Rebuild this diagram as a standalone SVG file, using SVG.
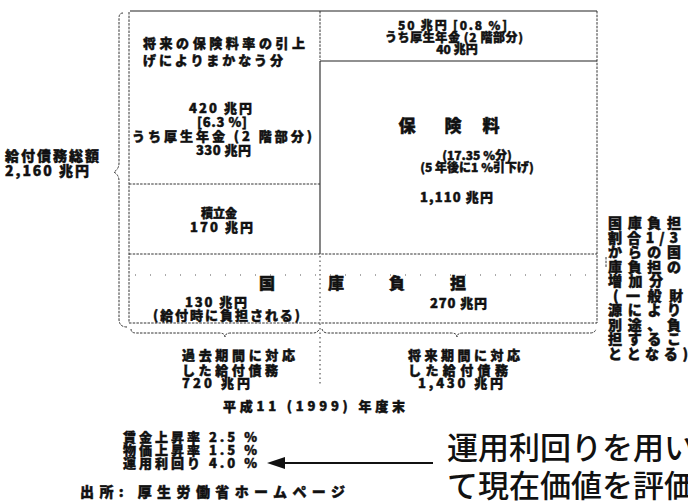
<svg xmlns="http://www.w3.org/2000/svg" width="688" height="501" viewBox="0 0 688 501">
<style>
.t{font-family:"Noto Sans CJK JP","Noto Sans",sans-serif;font-weight:900;font-size:13px;fill:#111;stroke:#111;stroke-width:0.45}
.m{font-size:12px}
.s{font-size:14px}
.k{font-family:"Noto Sans CJK JP","Noto Sans",sans-serif;font-weight:900;font-size:16px;fill:#111;stroke:#111;stroke-width:0.5}
.big{font-family:"Noto Sans CJK JP","Noto Sans",sans-serif;font-weight:500;font-size:31px;fill:#111}
.ln{fill:none;stroke:#222;stroke-width:1.1}
.dl{fill:none;stroke:#333;stroke-width:1;stroke-dasharray:2.5 1.2}
.sp{fill:none;stroke:#555;stroke-width:1;stroke-dasharray:1 14}
</style>
<rect width="688" height="501" fill="#fff"/>
<g id="connectors">
<path class="ln" d="M130,11 H597"/>
<path class="dl" d="M129,12 V323"/>
<path class="dl" d="M597,11 V323"/>
<path class="dl" d="M320,11 V60"/>
<path class="ln" d="M320,61 V254"/>
<path class="ln" d="M320,61 H597"/>
<path class="dl" d="M129,184 H320"/>
<path class="dl" d="M129,254 H597"/>
<path class="dl" d="M129,323 H597"/>
<path class="sp" d="M135,275 H595"/>
<path class="dl" d="M320,256 V385" style="stroke-dasharray:1.5 3"/>
<path class="dl" d="M123,13 Q119,13 119,18 V163 Q119,169 114,172 Q119,175 119,181 V319 Q119,327 127,327"/>
<path class="dl" d="M131,329 Q131,333 136,333 H219 Q225,333 225,337 Q225,333 231,333 H313 Q318,333 319,329"/>
<path class="dl" d="M322,329 Q323,333 328,333 H451 Q457,333 457,337 Q457,333 463,333 H590 Q595,333 596,329"/>
<path class="dl" d="M606,257 V268"/>
<path d="M283,463 H433" stroke="#111" stroke-width="2"/>
<polygon points="267,463 285,457 285,469" fill="#111"/>
</g>
<g id="label-total">
<text class="t s" x="5" y="161" textLength="94" lengthAdjust="spacing">給付債務総額</text>
<text class="t s" x="5" y="176" textLength="84" lengthAdjust="spacing">2,160 兆円</text>
</g>
<g id="node-future-rate">
<text class="t" x="143" y="48" textLength="162" lengthAdjust="spacing">将来の保険料率の引上</text>
<text class="t" x="143" y="65" textLength="140" lengthAdjust="spacing">げによりまかなう分</text>
<text class="t" x="189" y="113" textLength="63" lengthAdjust="spacing">420 兆円</text>
<text class="t" x="197" y="127" textLength="50" lengthAdjust="spacing">[6.3 %]</text>
<text class="t" x="132" y="141" textLength="180" lengthAdjust="spacing">うち厚生年金 (2 階部分)</text>
<text class="t" x="196" y="155" textLength="55" lengthAdjust="spacing">330 兆円</text>
</g>
<g id="node-reserve">
<text class="t m" x="219" y="217.5" text-anchor="middle">積立金</text>
<text class="t" x="190" y="232" textLength="63" lengthAdjust="spacing">170 兆円</text>
</g>
<g id="node-top-right">
<text class="t m" x="398" y="30" textLength="109" lengthAdjust="spacing">50 兆円 [0.8 %]</text>
<text class="t m" x="385" y="42" textLength="138" lengthAdjust="spacing">うち厚生年金 (2 階部分)</text>
<text class="t m" x="457" y="54" text-anchor="middle">40 兆円</text>
</g>
<g id="node-premium">
<text class="k" x="407" y="132" text-anchor="middle" style="font-size:17px">保</text>
<text class="k" x="453" y="132" text-anchor="middle" style="font-size:17px">険</text>
<text class="k" x="491" y="132" text-anchor="middle" style="font-size:17px">料</text>
<text class="t m" x="477" y="159.5" text-anchor="middle">(17.35 %分)</text>
<text class="t m" x="477" y="171.5" text-anchor="middle">(5 年後に1 %引下げ)</text>
<text class="t" x="420" y="202" textLength="73" lengthAdjust="spacing">1,110 兆円</text>
</g>
<g id="node-state">
<text class="k" x="267" y="289" text-anchor="middle">国</text>
<text class="k" x="336" y="289" text-anchor="middle">庫</text>
<text class="k" x="397" y="289" text-anchor="middle">負</text>
<text class="k" x="458" y="289" text-anchor="middle">担</text>
<text class="t" x="185" y="307" textLength="62" lengthAdjust="spacing">130 兆円</text>
<text class="t" x="153" y="320" textLength="147" lengthAdjust="spacing">(給付時に負担される)</text>
<text class="t" x="430" y="307.5" textLength="57" lengthAdjust="spacing">270 兆円</text>
</g>
<g id="node-side-note">
<text class="t s" x="608" y="228" textLength="73" lengthAdjust="spacing">国庫負担</text>
<text class="t s" x="608" y="242.5" textLength="70" lengthAdjust="spacing">割合1/3</text>
<text class="t s" x="608" y="257" textLength="73" lengthAdjust="spacing">からの国</text>
<text class="t s" x="608" y="271.5" textLength="73" lengthAdjust="spacing">庫負担の</text>
<text class="t s" x="608" y="286" textLength="55" lengthAdjust="spacing">増加分</text>
<text class="t s" x="613" y="300.5" textLength="70" lengthAdjust="spacing">(一般財</text>
<text class="t s" x="608" y="315" textLength="73" lengthAdjust="spacing">源により</text>
<text class="t s" x="608" y="329.5" textLength="73" lengthAdjust="spacing">別途、負</text>
<text class="t s" x="608" y="344" textLength="73" lengthAdjust="spacing">担するこ</text>
<text class="t s" x="608" y="358.5" textLength="80" lengthAdjust="spacing">ととなる)</text>
</g>
<g id="node-past">
<text class="t" x="182" y="360" textLength="113" lengthAdjust="spacing">過去期間に対応</text>
<text class="t" x="182" y="374.5" textLength="96" lengthAdjust="spacing">した給付債務</text>
<text class="t" x="182" y="388" textLength="68" lengthAdjust="spacing">720 兆円</text>
</g>
<g id="node-future">
<text class="t" x="408" y="360" textLength="112" lengthAdjust="spacing">将来期間に対応</text>
<text class="t" x="408" y="374.5" textLength="100" lengthAdjust="spacing">した給付債務</text>
<text class="t" x="418" y="388" textLength="85" lengthAdjust="spacing">1,430 兆円</text>
</g>
<g id="node-year">
<text class="t" x="223" y="411" textLength="182" lengthAdjust="spacing">平成11 (1999) 年度末</text>
</g>
<g id="node-assumptions">
<text class="t" x="123" y="442" textLength="134" lengthAdjust="spacing">賃金上昇率 2.5 %</text>
<text class="t" x="123" y="455" textLength="134" lengthAdjust="spacing">物価上昇率 1.5 %</text>
<text class="t" x="123" y="468" textLength="134" lengthAdjust="spacing">運用利回り 4.0 %</text>
</g>
<g id="node-source">
<text class="t s" x="80" y="497" textLength="265" lengthAdjust="spacing">出所: 厚生労働省ホームページ</text>
</g>
<g id="node-note">
<text class="big" x="447" y="459">運用利回りを用い</text>
<text class="big" x="447" y="497">て現在価値を評価</text>
</g>
</svg>
